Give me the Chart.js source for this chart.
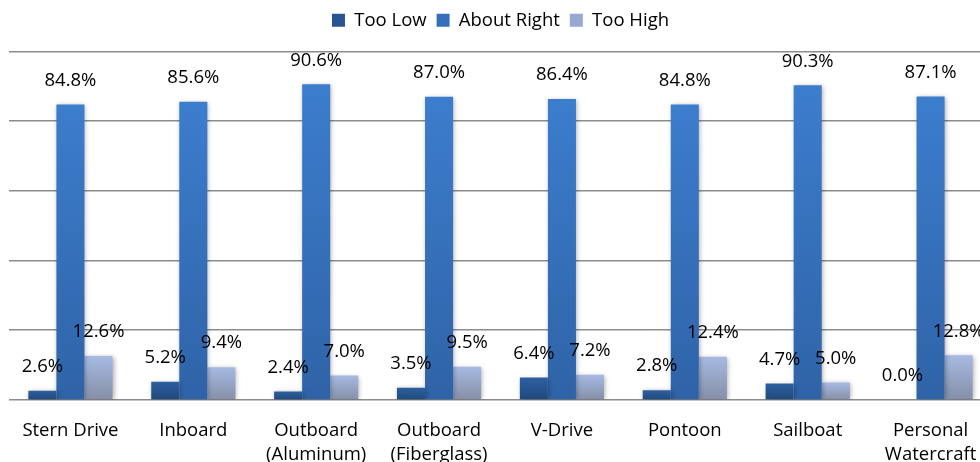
<!DOCTYPE html>
<html>
<head>
<meta charset="utf-8">
<script src="https://cdn.jsdelivr.net/npm/chart.js@4"></script>
<style>
html,body{margin:0;padding:0;background:#fff;overflow:hidden;}
#wrap{position:absolute;left:0;top:0;width:1000px;height:478px;}
</style>
</head>
<body>
<div id="wrap"><canvas id="c"></canvas></div>
<script>
const categories = [["Stern Drive"],["Inboard"],["Outboard","(Aluminum)"],["Outboard","(Fiberglass)"],["V-Drive"],["Pontoon"],["Sailboat"],["Personal","Watercraft"]];
const tooLow = [2.6, 5.2, 2.4, 3.5, 6.4, 2.8, 4.7, 0.0];
const aboutRight = [84.8, 85.6, 90.6, 87.0, 86.4, 84.8, 90.3, 87.1];
const tooHigh = [12.6, 9.4, 7.0, 9.5, 7.2, 12.4, 5.0, 12.8];
const seriesNames = ["Too Low", "About Right", "Too High"];
const yTicks = [0, 20, 40, 60, 80, 100];

const FONT = '"Open Sans", "Noto Sans", sans-serif';
const palette = [
  {top:'#2d5f9f', bottom:'#1f497c', legend:'#285592'},
  {top:'#3c7dcd', bottom:'#2f63a7', legend:'#3670bc'},
  {top:'#a6bae3', bottom:'#858fa6', legend:'#97a9d2'}
];

function gradFor(i){
  return function(ctx){
    const chart = ctx.chart;
    const ys = chart.scales && chart.scales.y;
    if(!chart.chartArea || !ys || ctx.raw === undefined) return palette[i].legend;
    const top = ys.getPixelForValue(ctx.raw);
    const bot = ys.getPixelForValue(0);
    if (bot - top < 1) return palette[i].top;
    const g = chart.ctx.createLinearGradient(0, top, 0, bot);
    g.addColorStop(0, palette[i].top);
    g.addColorStop(1, palette[i].bottom);
    return g;
  };
}

const legendSpacer = {
  id:'legendSpacer',
  beforeInit(chart){
    const orig = chart.legend.fit;
    chart.legend.fit = function(){ orig.bind(chart.legend)(); this.height += 12; };
  }
};

const shadowPlugin = {
  id:'shadow',
  beforeDatasetsDraw(chart){
    const c = chart.ctx; c.save();
    c.shadowColor='rgba(0,0,0,0.35)'; c.shadowBlur=5; c.shadowOffsetX=1; c.shadowOffsetY=1;
  },
  afterDatasetsDraw(chart){
    chart.ctx.restore();
    const c = chart.ctx;
    c.save();
    c.font = '18.5px ' + FONT;
    c.fillStyle = '#000';
    c.textAlign = 'center';
    c.textBaseline = 'middle';
    chart.data.datasets.forEach((ds, di) => {
      const meta = chart.getDatasetMeta(di);
      meta.data.forEach((bar, i) => {
        c.fillText(ds.data[i].toFixed(1) + '%', bar.x, bar.y - 24);
      });
    });
    c.restore();
  }
};

const data = {
  labels: categories,
  datasets: [tooLow, aboutRight, tooHigh].map((arr, i) => ({
    label: seriesNames[i],
    data: arr,
    backgroundColor: gradFor(i),
    borderWidth: 0,
    barPercentage: 1.0,
    categoryPercentage: 0.685
  }))
};

new Chart(document.getElementById('c'), {
  type: 'bar',
  data,
  plugins: [legendSpacer, shadowPlugin],
  options: {
    responsive: true,
    maintainAspectRatio: false,
    animation: false,
    layout: {padding: {left: 9, right: 8, top: 1, bottom: 0}},
    plugins: {
      tooltip: {enabled:false},
      legend: {
        position: 'top',
        labels: {
          font: {size: 18.5, family: FONT},
          color: '#000',
          boxWidth: 13, boxHeight: 13,
          padding: 10,
          generateLabels(chart){
            return seriesNames.map((n, i) => ({
              text: n, fillStyle: palette[i].legend, strokeStyle: palette[i].legend,
              lineWidth: 0, hidden: false, datasetIndex: i, fontColor:'#000'
            }));
          }
        }
      }
    },
    scales: {
      x: {
        grid: {display: false},
        border: {display: false},
        ticks: {
          color: '#000',
          font: {size: 18.5, family: FONT, lineHeight: 1.3},
          padding: 11,
          maxRotation: 0, autoSkip: false
        }
      },
      y: {
        min: 0, max: 100,
        afterBuildTicks(scale){ scale.ticks = yTicks.map(v => ({value: v})); },
        ticks: {display: false},
        border: {display: false},
        grid: {color: '#8c8c8c', lineWidth: 1.5, drawTicks: false}
      }
    }
  }
});
</script>
</body>
</html>
